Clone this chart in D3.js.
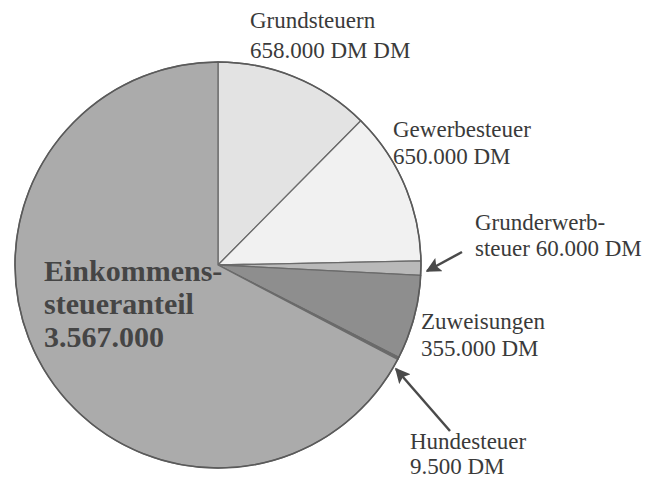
<!DOCTYPE html>
<html>
<head>
<meta charset="utf-8">
<script src="https://cdn.jsdelivr.net/npm/d3@7"></script>
<style>
  html, body { margin: 0; padding: 0; background: #fff; }
  svg { display: block; }
</style>
</head>
<body>
<div id="chart"></div>
<script>
// Einnahmen der Gemeinde (DM), im Uhrzeigersinn ab 12 Uhr
const categories = ['Grundsteuern', 'Gewerbesteuer', 'Grunderwerbsteuer', 'Zuweisungen', 'Hundesteuer', 'Einkommensteueranteil'];
const values = [658000, 650000, 60000, 355000, 9500, 3567000];
const labelLines = [
  ['Grundsteuern', '658.000 DM DM'],
  ['Gewerbesteuer', '650.000 DM'],
  ['Grunderwerb-', 'steuer 60.000 DM'],
  ['Zuweisungen', '355.000 DM'],
  ['Hundesteuer', '9.500 DM'],
  ['Einkommens-', 'steueranteil', '3.567.000']
];

const W = 653, H = 478;
const cx = 218, cy = 265, R = 203;

const fills = ['#e3e3e3', '#f1f1f1', '#b9b9b9', '#8e8e8e', '#6a6a6a', '#ababab'];

const svg = d3.select('#chart').append('svg')
  .attr('width', W).attr('height', H)
  .attr('viewBox', `0 0 ${W} ${H}`);

const defs = svg.append('defs');
defs.append('marker')
  .attr('id', 'arrow')
  .attr('viewBox', '0 0 10 10')
  .attr('refX', 9).attr('refY', 5)
  .attr('markerWidth', 6).attr('markerHeight', 6)
  .attr('orient', 'auto')
  .append('path')
  .attr('d', 'M0,0 L10,5 L0,10 L2,5 Z')
  .attr('fill', '#4a4a4a');

const pie = d3.pie().sort(null).value(d => d)
  .startAngle(0).endAngle(2 * Math.PI);
const arc = d3.arc().innerRadius(0).outerRadius(R);
const arcs = pie(values);

const g = svg.append('g').attr('transform', `translate(${cx},${cy})`);

g.selectAll('path.slice')
  .data(arcs)
  .join('path')
  .attr('class', 'slice')
  .attr('d', arc)
  .attr('fill', (d, i) => fills[i])
  .attr('stroke', '#6a6a6a')
  .attr('stroke-width', 1.3)
  .attr('stroke-linejoin', 'round');

// outer edge
g.append('circle')
  .attr('r', R)
  .attr('fill', 'none')
  .attr('stroke', '#5a5a5a')
  .attr('stroke-width', 1.6);

// labels
const labelPos = [
  { x: 250, y: 28, size: 23, lh: 30 },
  { x: 393, y: 137, size: 23, lh: 27 },
  { x: 475, y: 230, size: 23, lh: 26 },
  { x: 421, y: 329, size: 23, lh: 27 },
  { x: 410, y: 449, size: 23, lh: 25 },
  { x: 44, y: 281, size: 30, lh: 33, bold: true }
];

labelLines.forEach((lines, i) => {
  const p = labelPos[i];
  const t = svg.append('text')
    .attr('x', p.x).attr('y', p.y)
    .attr('font-family', '"Liberation Serif", "Times New Roman", serif')
    .attr('font-size', p.size + 'px')
    .attr('font-weight', p.bold ? 'bold' : 'normal')
    .attr('fill', p.bold ? '#454545' : '#3a3a3a');
  lines.forEach((s, j) => {
    t.append('tspan').attr('x', p.x).attr('dy', j === 0 ? 0 : p.lh).text(s);
  });
});

// pointer arrows for the small slices
const arrows = [
  { from: [462, 252], to: [427, 271] },
  { from: [450, 431], to: [396, 369] }
];
svg.selectAll('line.arrow')
  .data(arrows)
  .join('line')
  .attr('class', 'arrow')
  .attr('x1', d => d.from[0]).attr('y1', d => d.from[1])
  .attr('x2', d => d.to[0]).attr('y2', d => d.to[1])
  .attr('stroke', '#4a4a4a')
  .attr('stroke-width', 2.5)
  .attr('marker-end', 'url(#arrow)');
</script>
</body>
</html>
